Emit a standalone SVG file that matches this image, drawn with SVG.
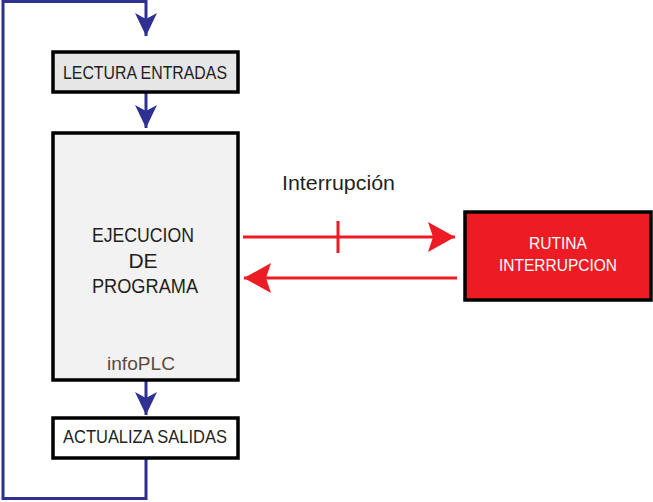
<svg xmlns="http://www.w3.org/2000/svg" width="653" height="502" viewBox="0 0 653 502">
<style>
.box{stroke:#000;stroke-width:3.5}
.t{font-family:"Liberation Sans",Arial,sans-serif;text-anchor:middle;fill:#231f20}
.blue{stroke:#2e3192;stroke-width:3;fill:none}
.red{stroke:#ed1c24;stroke-width:3;fill:none}
</style>
<defs>
<marker id="ab" markerUnits="userSpaceOnUse" markerWidth="24" markerHeight="24" viewBox="0 0 24 24" refX="23" refY="12" orient="auto">
<path d="M0,1 L23,12 L0,23 L6,12 Z" fill="#2e3192"/>
</marker>
<marker id="ar" markerUnits="userSpaceOnUse" markerWidth="28" markerHeight="32" viewBox="0 0 28 32" refX="27" refY="16" orient="auto">
<path d="M0,1 L27,16 L0,31 L5,16 Z" fill="#ed1c24"/>
</marker>
</defs>
<rect width="653" height="502" fill="#fff"/>
<g id="connectors">
<path class="blue" d="M146,459 V498.5 H3 V1.5 H146 V36" marker-end="url(#ab)"/>
<path class="blue" d="M146,93 V128" marker-end="url(#ab)"/>
<path class="blue" d="M146,381 V415" marker-end="url(#ab)"/>
<path class="red" d="M243,237 H455" marker-end="url(#ar)"/>
<path class="red" d="M338,221 V253"/>
<path class="red" d="M457,278 H244" marker-end="url(#ar)"/>
<text class="t" x="282" y="190" style="text-anchor:start" font-size="20" textLength="113" lengthAdjust="spacingAndGlyphs">Interrupción</text>
</g>
<g id="lectura">
<rect class="box" x="53" y="52" width="185" height="40" fill="#e6e6e6"/>
<text class="t" x="145" y="78.5" font-size="18" textLength="164" lengthAdjust="spacingAndGlyphs">LECTURA ENTRADAS</text>
</g>
<g id="ejecucion">
<rect class="box" x="53" y="133" width="185" height="247" fill="#f2f2f2"/>
<text class="t" x="143" y="242" font-size="21" textLength="102" lengthAdjust="spacingAndGlyphs">EJECUCION</text>
<text class="t" x="143" y="268" font-size="21">DE</text>
<text class="t" x="145" y="293" font-size="21" textLength="106" lengthAdjust="spacingAndGlyphs">PROGRAMA</text>
<text class="t" x="141" y="370" font-size="19" style="fill:#5b4a42" textLength="68" lengthAdjust="spacingAndGlyphs">infoPLC</text>
</g>
<g id="actualiza">
<rect class="box" x="53" y="418" width="185" height="40" fill="#fff"/>
<text class="t" x="145" y="443" font-size="18" textLength="164" lengthAdjust="spacingAndGlyphs">ACTUALIZA SALIDAS</text>
</g>
<g id="rutina">
<rect class="box" x="465" y="212" width="186" height="88" fill="#ed1c24"/>
<text class="t" x="558" y="249" font-size="17" style="fill:#fff" textLength="58" lengthAdjust="spacingAndGlyphs">RUTINA</text>
<text class="t" x="558" y="271" font-size="17" style="fill:#fff" textLength="118" lengthAdjust="spacingAndGlyphs">INTERRUPCION</text>
</g>
</svg>
